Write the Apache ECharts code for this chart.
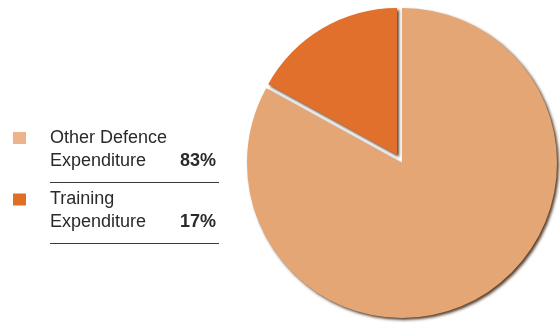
<!DOCTYPE html>
<html>
<head>
<meta charset="utf-8">
<script src="https://cdn.jsdelivr.net/npm/echarts@6/dist/echarts.min.js"></script>
<style>
	html, body { margin: 0; padding: 0; background: #fff; }
	#chart { width: 560px; height: 332px; }
</style>
</head>
<body>
<div id="chart"></div>
<script>
// 数据
const categories = ["Other Defence Expenditure", "Training Expenditure"];
const labelLines = [["Other Defence", "Expenditure"], ["Training", "Expenditure"]];
const values = [83, 17];
const colors = ["#E4A674", "#E0702B"];
const legendColors = ["#EDB38B", "#E06F25"];

const chart = echarts.init(document.getElementById("chart"));

// 图例文字：首行留空，使图标与第一行对齐
function legendText(name) {
	const i = categories.indexOf(name);
	return "\n{a|" + labelLines[i][0] + "}\n{a|" + labelLines[i][1] + "}{b|" + values[i] + "%}";
}

// 两个系列：大扇区 + 分离出来的小扇区
function pieData(visibleIndex) {
	return categories.map((name, i) => ({
		name: name,
		value: values[i],
		itemStyle: { color: i === visibleIndex ? colors[i] : "transparent" },
	}));
}

const shadow = {
	shadowColor: "rgba(60, 30, 8, 0.85)",
	shadowBlur: 3,
	shadowOffsetX: 2,
	shadowOffsetY: 2,
};

const option = {
	backgroundColor: "#fff",
	animation: false,
	legend: {
		orient: "vertical",
		left: 13,
		top: 103.5,
		padding: 0,
		itemWidth: 13,
		itemHeight: 12,
		itemGap: -7.5,
		icon: "rect",
		selectedMode: false,
		data: categories.map((name, i) => ({ name: name, itemStyle: { color: legendColors[i] } })),
		formatter: legendText,
		textStyle: {
			fontFamily: "Liberation Sans",
			fontSize: 18,
			lineHeight: 23,
			color: "#2a2a2a",
			rich: {
				a: { fontFamily: "Liberation Sans", fontSize: 18, lineHeight: 23, color: "#2a2a2a", width: 128, padding: [0, 0, 0, 19] },
				b: { fontFamily: "Liberation Sans", fontSize: 18, lineHeight: 23, color: "#2a2a2a", fontWeight: "bold", width: 38, align: "right" },
			},
		},
	},
	graphic: [
		{ type: "line", shape: { x1: 50, y1: 182.5, x2: 219, y2: 182.5 }, style: { stroke: "#3a3a3a", lineWidth: 1 } },
		{ type: "line", shape: { x1: 50, y1: 243.5, x2: 219, y2: 243.5 }, style: { stroke: "#3a3a3a", lineWidth: 1 } },
	],
	series: [
		{
			type: "pie",
			center: [402, 163],
			radius: 155,
			startAngle: 90,
			silent: true,
			label: { show: false },
			labelLine: { show: false },
			itemStyle: shadow,
			data: pieData(0),
		},
		{
			type: "pie",
			center: [397, 155],
			radius: 147,
			startAngle: 90,
			silent: true,
			label: { show: false },
			labelLine: { show: false },
			itemStyle: shadow,
			data: pieData(1),
		},
	],
};

chart.setOption(option);
</script>
</body>
</html>
